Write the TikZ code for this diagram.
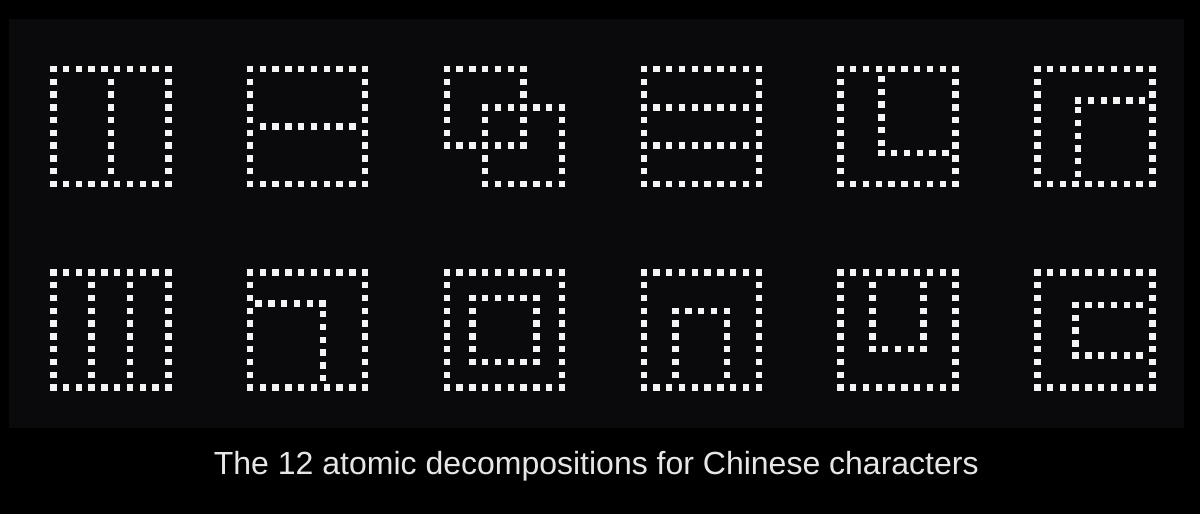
\documentclass[tikz,border=0pt]{standalone}
\usepackage{fontspec}
\setmainfont{Liberation Sans}
\definecolor{panelc}{HTML}{0A0A0C}
\definecolor{dotc}{HTML}{F4F4F4}
\definecolor{textc}{HTML}{E6E6E6}
\newcommand\gp{12.78}
\newcommand\gdot[2]{\fill[dotc] ({(#1)*\gp-3.2},{(#2)*\gp-3.2}) rectangle ({(#1)*\gp+3.2},{(#2)*\gp+3.2});}
\newcommand\outerframe{%
  \foreach \i in {0,...,9} {\gdot{\i}{0}\gdot{\i}{9}}%
  \foreach \j in {1,...,8} {\gdot{0}{\j}\gdot{9}{\j}}}
\newcommand\sqframe[3]{% x0 y0 n (n = number of steps)
  \foreach \i in {0,...,#3} {\gdot{#1+\i}{#2}\gdot{#1+\i}{#2+#3}}%
  \pgfmathtruncatemacro\nm{#3-1}%
  \foreach \j in {1,...,\nm} {\gdot{#1}{#2+\j}\gdot{#1+#3}{#2+\j}}}
\begin{document}
\begin{tikzpicture}[x=1pt,y=-1pt]
\useasboundingbox (0,0) rectangle (1200,514);
\fill[black] (0,0) rectangle (1200,514);
\fill[panelc] (9,19) rectangle (1184,428);
% Row 1
\begin{scope}[shift={(53.3,69)}]
  \outerframe
  \foreach \j in {1,...,8} {\gdot{4.5}{\j}}
\end{scope}
\begin{scope}[shift={(250.1,69)}]
  \outerframe
  \foreach \i in {1,...,8} {\gdot{\i}{4.5}}
\end{scope}
\begin{scope}[shift={(446.9,69)}]
  \sqframe{0}{0}{6}
  \sqframe{3}{3}{6}
\end{scope}
\begin{scope}[shift={(643.7,69)}]
  \outerframe
  \foreach \i in {1,...,8} {\gdot{\i}{3}\gdot{\i}{6}}
\end{scope}
\begin{scope}[shift={(840.5,69)}]
  \outerframe
  \foreach \j in {0,...,5} {\gdot{3.2}{0.78+\j}}
  \foreach \i in {0,...,5} {\gdot{3.2+\i}{6.55}}
\end{scope}
\begin{scope}[shift={(1037.3,69)}]
  \outerframe
  \foreach \i in {0,...,5} {\gdot{3.2+\i}{2.45}}
  \foreach \j in {0,...,5} {\gdot{3.2}{3.22+\j}}
\end{scope}
% Row 2
\begin{scope}[shift={(53.3,272.5)}]
  \outerframe
  \foreach \j in {1,...,8} {\gdot{3}{\j}\gdot{6}{\j}}
\end{scope}
\begin{scope}[shift={(250.1,272.5)}]
  \outerframe
  \foreach \i in {0,...,5} {\gdot{0.67+\i}{2.44}}
  \foreach \j in {0,...,5} {\gdot{5.7}{3.27+\j}}
\end{scope}
\begin{scope}[shift={(446.9,272.5)}]
  \outerframe
  \sqframe{2}{2}{5}
\end{scope}
\begin{scope}[shift={(643.7,272.5)}]
  \outerframe
  \foreach \i in {0,...,4} {\gdot{2.5+\i}{3}}
  \foreach \j in {4,...,8} {\gdot{2.5}{\j}\gdot{6.5}{\j}}
\end{scope}
\begin{scope}[shift={(840.5,272.5)}]
  \outerframe
  \foreach \j in {1,...,5} {\gdot{2.5}{\j}\gdot{6.5}{\j}}
  \foreach \i in {0,...,4} {\gdot{2.5+\i}{6}}
\end{scope}
\begin{scope}[shift={(1037.3,272.5)}]
  \outerframe
  \foreach \i in {3,...,8} {\gdot{\i}{2.55}\gdot{\i}{6.5}}
  \foreach \j in {3.55,4.55,5.55} {\gdot{3}{\j}}
\end{scope}
\node[anchor=base, text=textc, font=\fontsize{32}{38}\selectfont, inner sep=0pt] (title) at (596.3,474.3) {The 12 atomic decompositions for Chinese characters};
\end{tikzpicture}
\end{document}
